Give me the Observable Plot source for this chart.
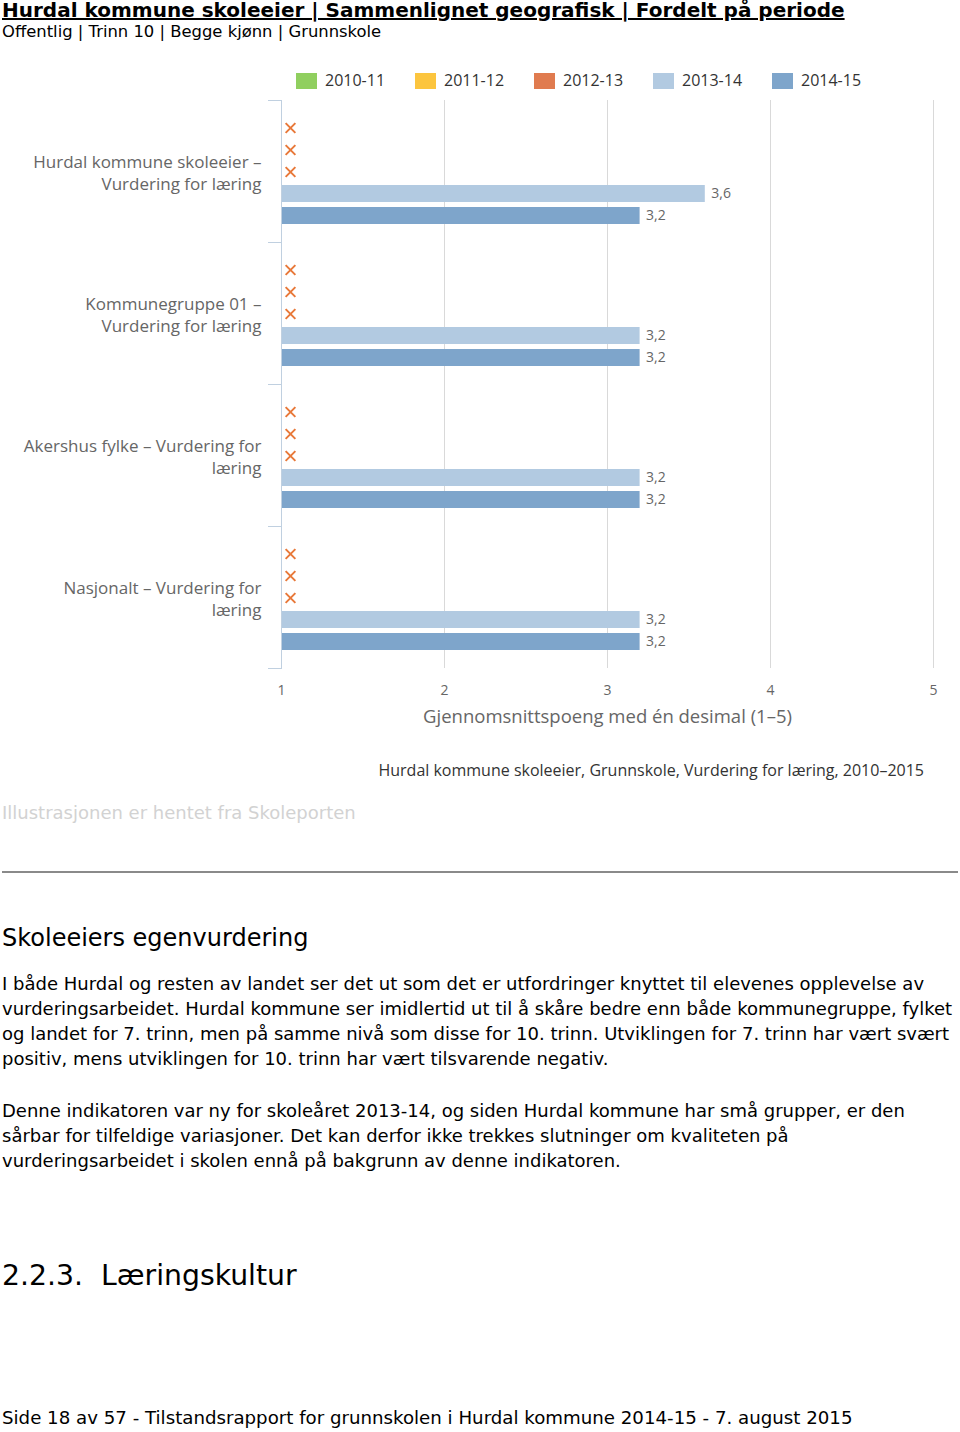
<!DOCTYPE html>
<html>
<head>
<meta charset="utf-8">
<script src="https://cdn.jsdelivr.net/npm/d3@7"></script>
<script src="https://cdn.jsdelivr.net/npm/@observablehq/plot@0.6"></script>
<style>
  html, body { margin: 0; padding: 0; background: #fff; }
  body { width: 960px; height: 1432px; position: relative; overflow: hidden; font-family: "DejaVu Sans", Verdana, sans-serif; color: #000; }
  .abs { position: absolute; white-space: nowrap; }
  #title { left: 2px; top: -1px; font-size: 20px; font-weight: bold; text-decoration: underline; line-height: 22px; }
  #subtitle { left: 2px; top: 23px; font-size: 16.4px; line-height: 18px; }
  #legend { left: 296px; top: 72px; font-family: "Open Sans", sans-serif; font-size: 16px; color: #333; }
  #legend .item { position: absolute; top: 0; white-space: nowrap; }
  #legend .sw { position: absolute; left: 0; top: 1px; width: 21px; height: 16px; }
  #legend .lb { position: absolute; left: 29px; top: -2px; line-height: 20px; }
  #chart { left: 0; top: 95px; }
  #chart svg g[aria-label="x-axis tick label"] { font-size: 14px; }
  #chart svg g[aria-label="x-axis label"] { font-size: 18.5px; }
  #chart svg g[aria-label="fy-axis tick label"] { font-size: 17px; }
  #chart svg g[aria-label="text"] { font-size: 14px; }
  #caption { right: 36px; top: 759px; font-family: "Open Sans", sans-serif; font-size: 16px; color: #333; }
  #source { left: 2px; top: 802px; font-size: 18px; color: #d2d2d2; line-height: 22px; }
  #hr { left: 2px; top: 871px; width: 956px; height: 0; border-top: 2px solid #8a8a8a; }
  #h2 { left: 2px; top: 923px; font-size: 24px; line-height: 30px; }
  .p { left: 2px; font-size: 18px; line-height: 25px; }
  #h3 { left: 2px; top: 1258px; font-size: 28.3px; line-height: 36px; }
  #footer { left: 2px; top: 1407px; font-size: 18.2px; line-height: 22px; }
</style>
</head>
<body>
<div id="title" class="abs">Hurdal kommune skoleeier | Sammenlignet geografisk | Fordelt på periode</div>
<div id="subtitle" class="abs">Offentlig | Trinn 10 | Begge kjønn | Grunnskole</div>
<div id="legend" class="abs"></div>
<div id="chart" class="abs"></div>
<div id="caption" class="abs">Hurdal kommune skoleeier, Grunnskole, Vurdering for læring, 2010–2015</div>
<div id="source" class="abs">Illustrasjonen er hentet fra Skoleporten</div>
<div id="hr" class="abs"></div>
<div id="h2" class="abs">Skoleeiers egenvurdering</div>
<div class="abs p" style="top:971px">I både Hurdal og resten av landet ser det ut som det er utfordringer knyttet til elevenes opplevelse av<br>vurderingsarbeidet. Hurdal kommune ser imidlertid ut til å skåre bedre enn både kommunegruppe, fylket<br>og landet for 7. trinn, men på samme nivå som disse for 10. trinn. Utviklingen for 7. trinn har vært svært<br>positiv, mens utviklingen for 10. trinn har vært tilsvarende negativ.</div>
<div class="abs p" style="top:1098px">Denne indikatoren var ny for skoleåret 2013-14, og siden Hurdal kommune har små grupper, er den<br>sårbar for tilfeldige variasjoner. Det kan derfor ikke trekkes slutninger om kvaliteten på<br>vurderingsarbeidet i skolen ennå på bakgrunn av denne indikatoren.</div>
<div id="h3" class="abs">2.2.3.&nbsp; Læringskultur</div>
<div id="footer" class="abs">Side 18 av 57 - Tilstandsrapport for grunnskolen i Hurdal kommune 2014-15 - 7. august 2015</div>

<script>
// ---- data ----
const categories = [
  "Hurdal kommune skoleeier – Vurdering for læring",
  "Kommunegruppe 01 – Vurdering for læring",
  "Akershus fylke – Vurdering for læring",
  "Nasjonalt – Vurdering for læring"
];
const categoryLabels = [
  "Hurdal kommune skoleeier –\nVurdering for læring",
  "Kommunegruppe 01 –\nVurdering for læring",
  "Akershus fylke – Vurdering for\nlæring",
  "Nasjonalt – Vurdering for\nlæring"
];
const periods = ["2010-11", "2011-12", "2012-13", "2013-14", "2014-15"];
const periodColors = ["#90cf5f", "#fcc53e", "#e07b4f", "#b2cae1", "#7ea5cb"];
const s2010_11 = [null, null, null, null];
const s2011_12 = [null, null, null, null];
const s2012_13 = [null, null, null, null];
const s2013_14 = [3.6, 3.2, 3.2, 3.2];
const s2014_15 = [3.2, 3.2, 3.2, 3.2];
const xTicks = [1, 2, 3, 4, 5];
const xLabel = "Gjennomsnittspoeng med én desimal (1–5)";

const series = [s2010_11, s2011_12, s2012_13, s2013_14, s2014_15];
const rows = [];
categories.forEach((c, i) => periods.forEach((p, j) => rows.push({category: c, period: p, value: series[j][i]})));
const present = rows.filter(d => d.value != null);
const missing = rows.filter(d => d.value == null);
const labelOf = new Map(categories.map((c, i) => [c, categoryLabels[i]]));
const fmt = v => d3.format(".1f")(v).replace(".", ",");

// ---- legend ----
const legend = document.getElementById("legend");
periods.forEach((p, i) => {
  const it = document.createElement("div");
  it.className = "item";
  it.style.left = (i * 119) + "px";
  it.innerHTML = `<div class="sw" style="background:${periodColors[i]}"></div><div class="lb">${p}</div>`;
  legend.appendChild(it);
});

// ---- chart ----
const chartFont = "Open Sans, sans-serif";
const chart = Plot.plot({
  width: 960,
  height: 635,
  marginLeft: 281,
  marginRight: 27,
  marginTop: 4,
  marginBottom: 62,
  style: {fontFamily: chartFont, background: "transparent"},
  x: {domain: [1, 5]},
  y: {domain: periods, paddingInner: 0.23, paddingOuter: 0.84, axis: null},
  fy: {domain: categories, padding: 0, axis: null},
  color: {domain: periods, range: periodColors},
  marks: [
    Plot.gridX(xTicks.slice(1), {stroke: "#d9d9d9", strokeOpacity: 1, strokeWidth: 1}),
    Plot.frame({anchor: "left", stroke: "#c0d0e0", strokeWidth: 1}),
    Plot.frame({anchor: "top", stroke: "#c0d0e0", insetLeft: -13, insetRight: 652}),
    Plot.frame({anchor: "bottom", stroke: "#c0d0e0", insetLeft: -13, insetRight: 652}),
    Plot.barX(present, {fy: "category", y: "period", x1: 1, x2: "value", fill: "period", insetLeft: 1}),
    Plot.text(present, {fy: "category", y: "period", x: "value", text: d => fmt(d.value), textAnchor: "start", dx: 6, fill: "#666", fontSize: 14}),
    Plot.dot(missing, {fy: "category", y: "period", x: 1, dx: 9, symbol: "times", r: 4.5, stroke: "#e8793a", strokeWidth: 2}),
    Plot.axisFy({anchor: "left", tickSize: 0, tickPadding: 20, tickFormat: c => labelOf.get(c), fontSize: 17, fill: "#666", lineHeight: 1.3, label: null}),
    Plot.axisX({anchor: "bottom", ticks: xTicks, tickSize: 0, tickPadding: 17, tickFormat: d => String(d), fontSize: 14, fill: "#666", label: xLabel, labelAnchor: "center", labelArrow: "none", labelOffset: 54})
  ]
});
document.getElementById("chart").appendChild(chart);
</script>
</body>
</html>
